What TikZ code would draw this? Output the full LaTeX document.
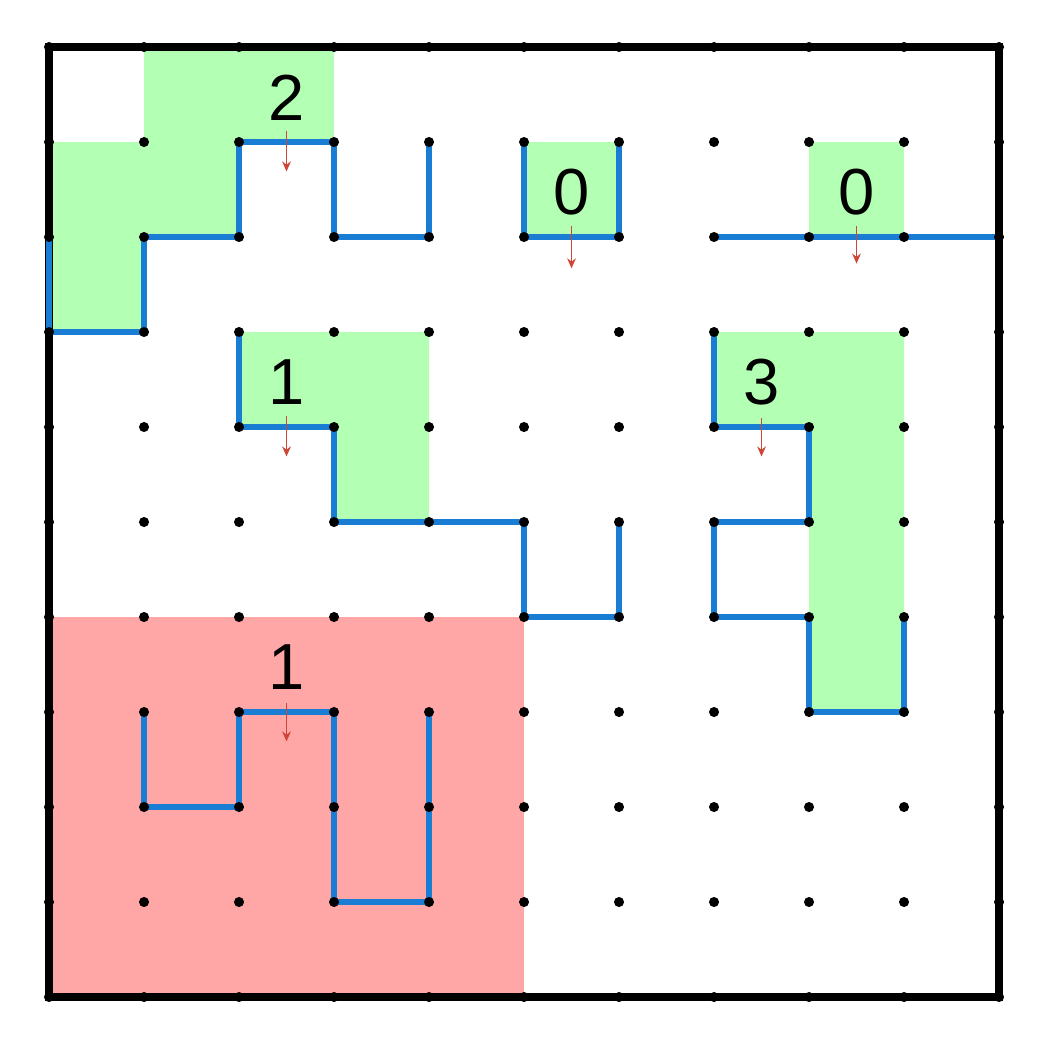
\documentclass[tikz,border=0pt]{standalone}
\usepackage{fontspec}
\setmainfont{Liberation Sans}
\usetikzlibrary{arrows.meta}
\definecolor{cellgreen}{RGB}{179,255,179}
\definecolor{cellred}{RGB}{255,166,166}
\definecolor{wallblue}{RGB}{26,125,212}
\definecolor{forcered}{RGB}{205,70,55}

\begin{document}
\begin{tikzpicture}[
  wall/.style={draw=wallblue, line width=2pt},
  clue/.style={font=\fontsize{19.5}{19.5}\selectfont, inner sep=0pt},
  force/.style={draw=forcered, line width=0.45pt, -{Stealth[length=3pt,width=2.6pt]}}
]
\useasboundingbox (-0.516,-0.505) rectangle (10.484,10.495);

% regions
\fill[cellgreen] (1,10) -- (3,10) -- (3,9) -- (2,9) -- (2,8) -- (1,8) -- (1,7) -- (0,7) -- (0,9) -- (1,9) -- cycle;
\fill[cellgreen] (5,8) rectangle (6,9);
\fill[cellgreen] (8,8) rectangle (9,9);
\fill[cellgreen] (2,7) -- (4,7) -- (4,5) -- (3,5) -- (3,6) -- (2,6) -- cycle;
\fill[cellgreen] (7,7) -- (9,7) -- (9,3) -- (8,3) -- (8,6) -- (7,6) -- cycle;
\fill[cellred] (0,0) rectangle (5,4);

% walls (the right one goes under the frame)
\draw[wall] (7,8) -- (10,8);

% frame
\draw[line width=2.4pt] (0,0) rectangle (10,10);

\draw[wall] (0,8) -- (0,7) -- (1,7) -- (1,8) -- (2,8) -- (2,9) -- (3,9) -- (3,8) -- (4,8) -- (4,9);
\draw[wall] (5,9) -- (5,8) -- (6,8) -- (6,9);
\draw[wall] (2,7) -- (2,6) -- (3,6) -- (3,5) -- (5,5) -- (5,4) -- (6,4) -- (6,5);
\draw[wall] (7,7) -- (7,6) -- (8,6) -- (8,5) -- (7,5) -- (7,4) -- (8,4) -- (8,3) -- (9,3) -- (9,4);
\draw[wall] (1,3) -- (1,2) -- (2,2) -- (2,3) -- (3,3) -- (3,1) -- (4,1) -- (4,3);

% dots
\foreach \i in {0,...,10}
  \foreach \j in {0,...,10}
    \fill (\i,\j) circle (0.053);

% clues
\node[clue] (c2) at (2.5,9.47) {2};
\node[clue] (c0a) at (5.5,8.47) {0};
\node[clue] (c0b) at (8.5,8.47) {0};
\node[clue] (c1a) at (2.5,6.47) {1};
\node[clue] (c3) at (7.5,6.47) {3};
\node[clue] (c1b) at (2.5,3.47) {1};

\draw[force] ([yshift=-0.35cm]c2.center) -- ++(0,-0.43);
\draw[force] ([yshift=-0.35cm]c0a.center) -- ++(0,-0.45);
\draw[force] ([yshift=-0.35cm]c0b.center) -- ++(0,-0.4);
\draw[force] ([yshift=-0.35cm]c1a.center) -- ++(0,-0.43);
\draw[force] ([yshift=-0.38cm]c3.center) -- ++(0,-0.4);
\draw[force] ([yshift=-0.38cm]c1b.center) -- ++(0,-0.4);
\end{tikzpicture}
\end{document}
